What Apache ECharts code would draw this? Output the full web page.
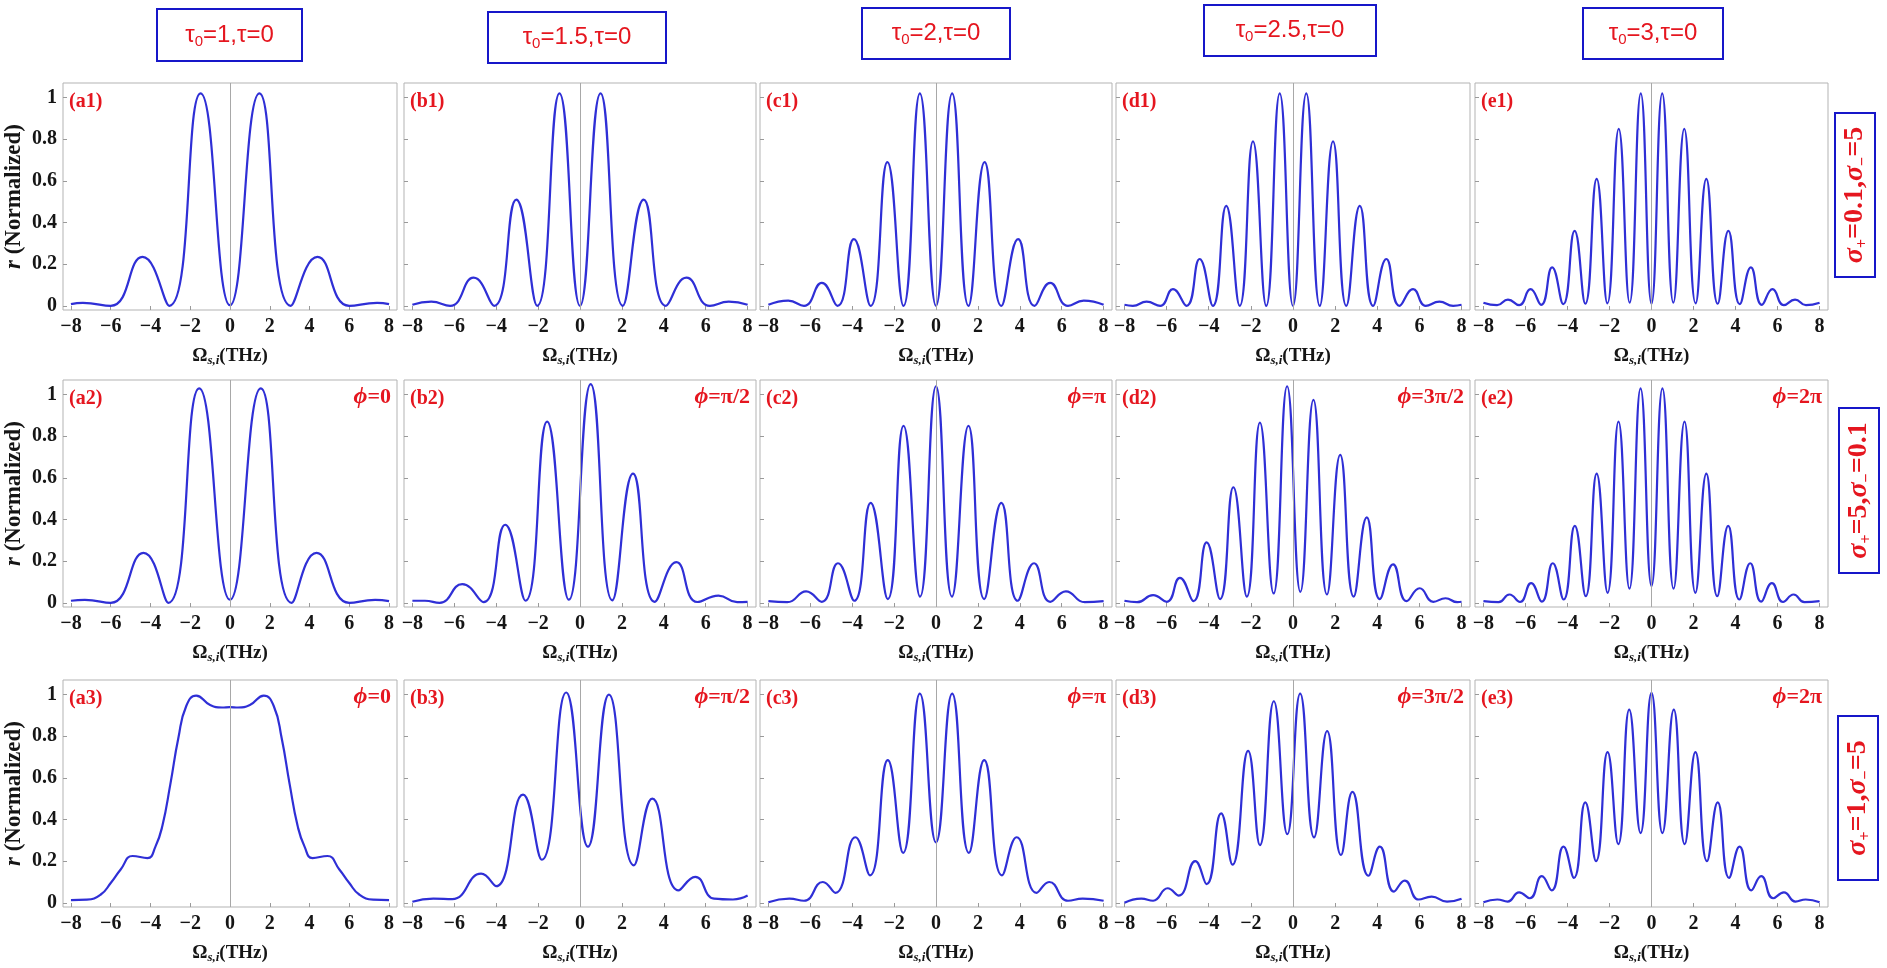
<!DOCTYPE html>
<html>
<head>
<meta charset="utf-8">
<script src="https://cdn.jsdelivr.net/npm/echarts@6.0.0/dist/echarts.min.js"></script>
<style>
  html, body { margin: 0; padding: 0; background: #fff; }
  #main { width: 1887px; height: 968px; }
</style>
</head>
<body>
<div id="main"></div>
<script>
// ---- data: [Omega (THz), r normalized] ----
// row 1 : sigma+ = 0.1, sigma- = 5
var a1 = [[-8,0.008],[-7.4,0.014],[-6.0,0.0],[-4.4,0.235],[-3.05,0.0],[-1.48,1.02],[0,0.003],[1.48,1.02],[3.05,0.0],[4.4,0.235],[6.0,0.0],[7.4,0.014],[8,0.008]];
var b1 = [[-8,0.005],[-7.1,0.02],[-6.2,0.0],[-5.08,0.135],[-4.1,0.0],[-3.04,0.51],[-2.04,0.0],[-0.98,1.02],[0,0.0],[0.98,1.02],[2.04,0.0],[3.04,0.51],[4.1,0.0],[5.08,0.135],[6.2,0.0],[7.1,0.02],[8,0.005]];
var c1 = [[-8,0.005],[-7.05,0.025],[-6.3,0.0],[-5.45,0.11],[-4.7,0.0],[-3.92,0.32],[-3.12,0.0],[-2.32,0.69],[-1.55,0.0],[-0.77,1.02],[0,0.0],[0.77,1.02],[1.55,0.0],[2.32,0.69],[3.12,0.0],[3.92,0.32],[4.7,0.0],[5.45,0.11],[6.3,0.0],[7.05,0.025],[8,0.005]];
var d1 = [[-8,0.005],[-7.6,0.0],[-6.95,0.02],[-6.3,0.0],[-5.7,0.08],[-5.05,0.0],[-4.43,0.225],[-3.8,0.0],[-3.17,0.48],[-2.53,0.0],[-1.9,0.79],[-1.27,0.0],[-0.63,1.02],[0,0.0],[0.63,1.02],[1.27,0.0],[1.9,0.79],[2.53,0.0],[3.17,0.48],[3.8,0.0],[4.43,0.225],[5.05,0.0],[5.7,0.08],[6.3,0.0],[6.95,0.02],[7.6,0.0],[8,0.005]];
var e1 = [[-8,0.015],[-7.35,0.003],[-6.83,0.03],[-6.3,0.003],[-5.76,0.08],[-5.25,0.005],[-4.73,0.185],[-4.2,0.008],[-3.66,0.36],[-3.15,0.01],[-2.61,0.61],[-2.1,0.012],[-1.56,0.85],[-1.04,0.015],[-0.51,1.02],[0,0.01],[0.51,1.02],[1.04,0.015],[1.56,0.85],[2.1,0.012],[2.61,0.61],[3.15,0.01],[3.66,0.36],[4.2,0.008],[4.73,0.185],[5.25,0.005],[5.76,0.08],[6.3,0.003],[6.83,0.03],[7.35,0.003],[8,0.015]];

// row 2 : sigma+ = 5, sigma- = 0.1
var a2 = [[-8,0.01],[-7.3,0.014],[-6.0,0.0],[-4.35,0.24],[-3.1,0.0],[-1.55,1.03],[0,0.015],[1.55,1.03],[3.1,0.0],[4.35,0.24],[6.0,0.0],[7.3,0.014],[8,0.008]];
var b2 = [[-8,0.01],[-7.4,0.01],[-6.7,0.0],[-5.62,0.09],[-4.6,0.003],[-3.57,0.375],[-2.6,0.01],[-1.57,0.87],[-0.53,0.015],[0.51,1.05],[1.54,0.012],[2.53,0.62],[3.57,0.005],[4.6,0.195],[5.6,0.004],[6.61,0.035],[7.5,0.003],[8,0.005]];
var c2 = [[-8,0.008],[-7.1,0.003],[-6.2,0.055],[-5.45,0.005],[-4.68,0.19],[-3.9,0.01],[-3.12,0.48],[-2.3,0.018],[-1.55,0.85],[-0.76,0.03],[0,1.04],[0.76,0.03],[1.55,0.85],[2.3,0.018],[3.12,0.48],[3.9,0.01],[4.68,0.19],[5.45,0.005],[6.2,0.055],[7.1,0.003],[8,0.008]];
var d2 = [[-8,0.01],[-7.4,0.003],[-6.64,0.037],[-5.99,0.005],[-5.37,0.12],[-4.72,0.008],[-4.1,0.29],[-3.46,0.018],[-2.83,0.555],[-2.19,0.03],[-1.57,0.865],[-0.92,0.045],[-0.28,1.04],[0.35,0.053],[0.97,0.975],[1.61,0.04],[2.24,0.71],[2.88,0.03],[3.5,0.41],[4.12,0.018],[4.75,0.185],[5.39,0.008],[6.01,0.07],[6.66,0.005],[7.24,0.022],[7.8,0.003],[8,0.005]];
var e2 = [[-8,0.008],[-7.28,0.003],[-6.76,0.04],[-6.26,0.004],[-5.73,0.095],[-5.22,0.006],[-4.7,0.19],[-4.18,0.016],[-3.65,0.37],[-3.13,0.032],[-2.61,0.62],[-2.09,0.048],[-1.57,0.87],[-1.05,0.068],[-0.52,1.03],[0,0.08],[0.52,1.03],[1.05,0.068],[1.57,0.87],[2.09,0.048],[2.61,0.62],[3.13,0.032],[3.65,0.37],[4.18,0.016],[4.7,0.19],[5.22,0.006],[5.73,0.095],[6.26,0.004],[6.76,0.04],[7.28,0.003],[8,0.008]];

// row 3 : sigma+ = 1, sigma- = 5
var a3 = [[-8,0.013],[-7.2,0.015],[-6.5,0.04],[-6.0,0.095],[-5.5,0.16],[-4.9,0.225],[-4.15,0.215],[-3.75,0.27],[-3.4,0.37],[-3.0,0.57],[-2.6,0.79],[-2.2,0.945],[-1.7,0.995],[-1.0,0.95],[-0.4,0.938],[0,0.94],[0.4,0.938],[1.0,0.95],[1.7,0.995],[2.2,0.945],[2.6,0.79],[3.0,0.57],[3.4,0.37],[3.75,0.27],[4.15,0.215],[4.9,0.225],[5.5,0.16],[6.0,0.095],[6.5,0.04],[7.2,0.015],[8,0.013]];
var b3 = [[-8,0.005],[-7.0,0.02],[-6.1,0.018],[-4.72,0.14],[-4.0,0.08],[-2.72,0.52],[-1.82,0.207],[-0.66,1.01],[0.38,0.27],[1.38,1.0],[2.57,0.18],[3.45,0.5],[4.7,0.06],[5.5,0.125],[6.4,0.02],[7.3,0.016],[8,0.035]];
var c3 = [[-8,0.003],[-7.0,0.02],[-6.3,0.01],[-5.4,0.1],[-4.8,0.048],[-3.85,0.315],[-3.15,0.132],[-2.3,0.685],[-1.57,0.24],[-0.77,1.005],[0,0.29],[0.77,1.005],[1.57,0.24],[2.3,0.685],[3.15,0.132],[3.85,0.315],[4.8,0.048],[5.4,0.1],[6.3,0.01],[7.0,0.02],[8,0.01]];
var d3 = [[-8,0.0],[-7.2,0.02],[-6.64,0.01],[-5.95,0.07],[-5.42,0.035],[-4.64,0.2],[-4.1,0.09],[-3.41,0.43],[-2.87,0.183],[-2.13,0.73],[-1.57,0.277],[-0.91,0.968],[-0.27,0.33],[0.34,1.005],[1.0,0.314],[1.62,0.825],[2.28,0.23],[2.82,0.533],[3.58,0.13],[4.12,0.27],[4.79,0.054],[5.3,0.107],[5.96,0.016],[6.58,0.03],[7.31,0.006],[8,0.02]];
var e3 = [[-8,0.003],[-7.34,0.016],[-6.85,0.006],[-6.3,0.05],[-5.79,0.022],[-5.22,0.128],[-4.75,0.06],[-4.19,0.27],[-3.69,0.12],[-3.15,0.482],[-2.64,0.2],[-2.09,0.724],[-1.58,0.282],[-1.06,0.928],[-0.52,0.335],[0,1.008],[0.52,0.335],[1.06,0.928],[1.58,0.282],[2.09,0.724],[2.64,0.2],[3.15,0.482],[3.69,0.12],[4.19,0.27],[4.75,0.06],[5.22,0.128],[5.79,0.022],[6.3,0.05],[6.85,0.006],[7.34,0.016],[8,0.003]];

var curves = [a1, b1, c1, d1, e1, a2, b2, c2, d2, e2, a3, b3, c3, d3, e3];

// tick labels and panel texts
var xTicks = [-8, -6, -4, -2, 0, 2, 4, 6, 8];
var yTicks = [0, 0.2, 0.4, 0.6, 0.8, 1];
var tau0 = ['1', '1.5', '2', '2.5', '3'];
var phis = ['0', 'π/2', 'π', '3π/2', '2π'];
var panelLetters = ['a', 'b', 'c', 'd', 'e'];
var sigmas = [['0.1', '5'], ['5', '0.1'], ['1', '5']];

// ---- layout (pixels) ----
var colLeft = [63, 404, 760, 1116, 1475];
var colRight = [397, 756, 1112, 1470, 1828];
var rowTop = [83, 380, 680];
var rowBottom = [310, 607, 907];
var headerBoxes = [[157, 9, 145, 52], [488, 12, 178, 51], [862, 8, 148, 51], [1204, 5, 172, 51], [1583, 8, 140, 51]];
var sideBoxes = [[1835, 113, 40, 164], [1839, 408, 40, 165], [1838, 716, 40, 164]];

var SERIF = '"Liberation Serif", "Times New Roman", serif';
var SANS = '"Liberation Sans", Arial, sans-serif';
var RED = '#e5161f';
var BLUE = '#1717c9';
var CURVE = '#2f2fd6';

function fmtX(v) { return v < 0 ? '\u2212' + (-v) : String(v); }
function fmtY(v) { return (v === 0 || v === 1) ? String(v) : v.toFixed(1); }

var grids = [], xAxes = [], yAxes = [], series = [], graphics = [];
var k = 0;
for (var r = 0; r < 3; r++) {
    for (var c = 0; c < 5; c++) {
        grids.push({
            left: colLeft[c], top: rowTop[r],
            width: colRight[c] - colLeft[c], height: rowBottom[r] - rowTop[r],
            show: true, borderColor: '#b3b3b3', borderWidth: 1, backgroundColor: '#fff',
            containLabel: false, outerBoundsMode: 'none'
        });
        xAxes.push({
            type: 'value', gridIndex: k, min: -8.4, max: 8.4,
            axisLine: { show: false, onZero: false },
            splitLine: { show: false },
            axisTick: { show: true, inside: true, length: 4, customValues: xTicks, lineStyle: { color: '#9a9a9a' } },
            axisLabel: { show: true, customValues: xTicks, formatter: fmtX, margin: 7,
                fontFamily: SERIF, fontWeight: 'bold', fontSize: 20, color: '#151515' },
            name: '\u03a9{s|s,i}(THz)', nameLocation: 'middle', nameGap: 35,
            nameTextStyle: {
                fontFamily: SERIF, fontWeight: 'bold', fontSize: 19, color: '#151515', lineHeight: 22,
                rich: { s: { fontFamily: SERIF, fontWeight: 'bold', fontStyle: 'italic', fontSize: 13,
                    color: '#151515', lineHeight: 12, verticalAlign: 'bottom' } }
            }
        });
        yAxes.push({
            type: 'value', gridIndex: k, min: -0.02, max: 1.07,
            axisLine: { show: false, onZero: false },
            splitLine: { show: false },
            axisTick: { show: true, inside: true, length: 4, customValues: yTicks, lineStyle: { color: '#9a9a9a' } },
            axisLabel: { show: c === 0, customValues: yTicks, formatter: fmtY, margin: 6,
                fontFamily: SERIF, fontWeight: 'bold', fontSize: 20, color: '#151515' },
            name: c === 0 ? '{r|r} (Normalized)' : '',
            nameLocation: 'middle', nameRotate: 90, nameGap: 37,
            nameTextStyle: {
                fontFamily: SERIF, fontWeight: 'bold', fontSize: 23, color: '#151515',
                rich: { r: { fontFamily: SERIF, fontWeight: 'bold', fontStyle: 'italic', fontSize: 23, color: '#151515' } }
            }
        });
        series.push({
            type: 'line', xAxisIndex: k, yAxisIndex: k,
            data: curves[k], smooth: 0.5, showSymbol: false,
            lineStyle: { color: CURVE, width: 2.2 },
            emphasis: { disabled: true },
            markLine: {
                silent: true, symbol: ['none', 'none'], label: { show: false },
                lineStyle: { color: '#a8a8a8', width: 1, type: 'solid' },
                data: [{ xAxis: 0 }]
            },
            z: 3
        });

        // panel tag, e.g. (a1)
        graphics.push({
            type: 'text', x: colLeft[c] + 6, y: rowTop[r] + 19, z: 10,
            style: { text: '(' + panelLetters[c] + (r + 1) + ')', font: 'bold 20px ' + SERIF,
                fill: RED, align: 'left', verticalAlign: 'middle' }
        });
        // phase tag for rows 2 and 3
        if (r > 0) {
            graphics.push({
                type: 'text', x: colRight[c] - 6, y: rowTop[r] + 17, z: 10,
                style: {
                    text: '{i|\u03d5}{t|=' + phis[c] + '}', align: 'right', verticalAlign: 'middle',
                    rich: {
                        i: { font: 'italic bold 24px ' + SERIF, fill: RED },
                        t: { font: 'bold 22px ' + SERIF, fill: RED }
                    }
                }
            });
        }
        k++;
    }
}

// column headers
for (var h = 0; h < 5; h++) {
    var hb = headerBoxes[h];
    graphics.push({
        type: 'rect', shape: { x: hb[0], y: hb[1], width: hb[2], height: hb[3] },
        style: { fill: '#fff', stroke: BLUE, lineWidth: 2 }, z: 10
    });
    graphics.push({
        type: 'text', x: hb[0] + hb[2] / 2, y: hb[1] + hb[3] / 2, z: 11,
        style: {
            text: '{t|\u03c4}{s|0}{t|=' + tau0[h] + ',\u03c4=0}', align: 'center', verticalAlign: 'middle',
            rich: {
                t: { font: '24px ' + SANS, fill: RED, lineHeight: 28 },
                s: { font: '15px ' + SANS, fill: RED, lineHeight: 16, verticalAlign: 'bottom' }
            }
        }
    });
}

// row labels on the right
for (var s = 0; s < 3; s++) {
    var sb = sideBoxes[s];
    graphics.push({
        type: 'rect', shape: { x: sb[0], y: sb[1], width: sb[2], height: sb[3] },
        style: { fill: '#fff', stroke: BLUE, lineWidth: 2 }, z: 10
    });
    graphics.push({
        type: 'text', x: sb[0] + sb[2] / 2, y: sb[1] + sb[3] / 2, rotation: Math.PI / 2, z: 11,
        style: {
            text: '{i|\u03c3}{s|+}{t|=' + sigmas[s][0] + ',}{i|\u03c3}{s|\u2212}{t|=' + sigmas[s][1] + '}',
            align: 'center', verticalAlign: 'middle',
            rich: {
                i: { font: 'italic bold 28px ' + SERIF, fill: RED, lineHeight: 32 },
                t: { font: 'bold 28px ' + SERIF, fill: RED, lineHeight: 32 },
                s: { font: 'bold 16px ' + SERIF, fill: RED, lineHeight: 18, verticalAlign: 'bottom' }
            }
        }
    });
}

var chart = echarts.init(document.getElementById('main'), null, { renderer: 'canvas' });
chart.setOption({
    animation: false,
    backgroundColor: '#fff',
    grid: grids,
    xAxis: xAxes,
    yAxis: yAxes,
    series: series,
    graphic: graphics
});
</script>
</body>
</html>
